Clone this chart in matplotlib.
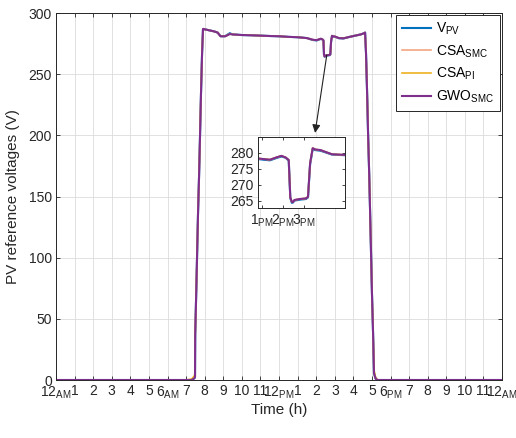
import matplotlib
matplotlib.use("Agg")
import matplotlib.pyplot as plt

plt.rcParams['font.family'] = ['Liberation Sans', 'DejaVu Sans']
plt.rcParams['mathtext.default'] = 'regular'

# ---------------- data ----------------
hours = [0, 7.0, 7.30, 7.45, 7.48, 7.49, 7.54, 7.59, 7.64, 7.70, 7.75, 7.80, 7.86, 7.91,
         8.2, 8.5, 8.7, 8.8, 8.85, 9.1, 9.25, 9.35, 9.5, 10.0, 10.5, 11.0, 11.5, 12.0,
         12.5, 13.0, 13.5, 13.8, 13.9, 14.03, 14.15, 14.25, 14.33, 14.39, 14.42, 14.45,
         14.47, 14.50, 14.60, 14.72, 14.76, 14.80, 14.85, 14.90, 15.0, 15.22, 15.47,
         15.8, 16.1, 16.4, 16.58, 16.63, 16.68, 16.74, 16.79, 16.85, 16.90, 16.95,
         17.00, 17.06, 17.11, 17.20, 17.30, 24.0]

v_pv = [0, 0, 0, 1.5, 2.7, 37, 68, 101, 135, 168, 200, 233, 267, 287,
        286, 285, 284, 282, 281, 281, 282.5, 283.5, 282.5, 282, 281.8, 281.5, 281.2, 281,
        280.5, 280.2, 279.5, 278.0, 277.8, 277.6, 278.3, 278.8, 278.4, 277.5, 265.8, 264.3,
        264.4, 265.0, 265.3, 265.5, 266.0, 276.3, 281.2, 280.8, 280.6, 279.4, 279.2,
        280.5, 281.5, 282.5, 283.5, 284, 267, 234, 202, 169, 137, 104,
        71, 38, 5.5, 1.0, 0, 0]

csa_smc = [0, 0, 0, 1.8, 3.0, 37, 68, 101, 135, 168, 200, 233, 267, 287,
           286, 285, 284, 282, 281, 281, 282, 283, 282.5, 282, 281.8, 281.5, 281.2, 281,
           280.5, 280.2, 279.5, 278.2, 278.0, 277.8, 278.5, 279.0, 278.5, 277.7, 266.0, 264.6,
           264.5, 265.2, 265.5, 265.7, 266.2, 276.7, 281.4, 281.0, 280.8, 279.5, 279.3,
           280.5, 281.5, 282.5, 283.5, 284, 267, 234, 202, 169, 137, 104,
           71, 38, 6.0, 1.2, 0, 0]

csa_pi = [0, 0, 0.8, 3.5, 5.0, 38, 69, 102, 136, 169, 201, 234, 268, 287,
          286, 285, 284, 282, 281, 281, 282, 283, 282.5, 282, 281.8, 281.5, 281.2, 281,
          280.5, 280.2, 279.5, 278.2, 278.0, 277.8, 278.5, 279.0, 278.5, 277.7, 266.0, 264.6,
          264.5, 265.2, 265.5, 265.7, 266.2, 276.7, 281.4, 281.0, 280.8, 279.5, 279.3,
          280.5, 281.5, 282.5, 283.5, 284, 268, 235, 203, 170, 138, 105,
          72, 39, 8.0, 2.0, 0, 0]

gwo_smc = [0, 0, 0, 1.5, 2.7, 37, 68, 101, 135, 168, 200, 233, 267, 287,
           286, 285, 284, 282, 281, 281, 282, 282.8, 282.5, 282, 281.8, 281.5, 281.2, 281,
           280.5, 280.2, 279.5, 278.2, 278.0, 277.8, 278.5, 279.0, 278.5, 277.7, 266.0, 264.6,
           264.5, 265.2, 265.5, 265.7, 266.2, 276.7, 281.4, 281.0, 280.8, 279.5, 279.3,
           280.5, 281.5, 282.5, 283.5, 284, 267, 234, 202, 169, 137, 104,
           71, 38, 5.5, 1.0, 0, 0]

series_labels = ['V$_{PV}$', 'CSA$_{SMC}$', 'CSA$_{PI}$', 'GWO$_{SMC}$']
series_colors = ['#0072BD', '#F4A582', '#EDB120', '#7E2F8E']
series_lw = [1.5, 1.2, 1.2, 1.5]

x_ticks = list(range(25))
x_ticklabels = ['12$_{AM}$', '1', '2', '3', '4', '5', '6$_{AM}$', '7', '8', '9', '10', '11',
                '12$_{PM}$', '1', '2', '3', '4', '5', '6$_{PM}$', '7', '8', '9', '10', '11',
                '12$_{AM}$']
y_ticks = [0, 50, 100, 150, 200, 250, 300]

inset_xlim = (13.8, 15.47)
inset_ylim = (262.6, 284.8)
inset_yticks = [265, 270, 275, 280]
inset_xticks = [13.88, 14.28, 14.68]
inset_xticklabels = ['1$_{PM}$', '2$_{PM}$', '3$_{PM}$']

# ---------------- plot ----------------
txt = '#262626'
fig = plt.figure(figsize=(5.16, 4.38), dpi=100)
ax = fig.add_axes([0.1085, 0.1324, 0.8645, 0.8379])

all_series = [v_pv, csa_smc, csa_pi, gwo_smc]
for vals, lab, col, lw in zip(all_series, series_labels, series_colors, series_lw):
    ax.plot(hours, vals, color=col, lw=lw, label=lab)

ax.set_xlim(0, 24)
ax.set_ylim(0, 300)
ax.set_xticks(x_ticks)
ax.set_xticklabels(x_ticklabels)
ax.set_yticks(y_ticks)
ax.grid(True, color='#dcdcdc', lw=0.6)
ax.set_axisbelow(True)
ax.tick_params(direction='in', top=True, right=True, labelsize=10, colors=txt,
               length=3, width=0.6, pad=3)
for s in ax.spines.values():
    s.set_color(txt)
    s.set_linewidth(0.7)
ax.set_xlabel('Time (h)', fontsize=11, color=txt, labelpad=2)
ax.set_ylabel('PV reference voltages (V)', fontsize=11, color=txt, labelpad=6)

leg = ax.legend(loc='upper right', fontsize=10, fancybox=False, framealpha=1,
                edgecolor=txt, borderaxespad=0.15, handlelength=2.1,
                labelspacing=0.45, handletextpad=0.4, borderpad=0.4)
leg.get_frame().set_linewidth(0.7)

ax.annotate('', xy=(13.94, 202), xytext=(14.57, 265.7),
            arrowprops=dict(arrowstyle='-|>', color='#222222', lw=0.8,
                            mutation_scale=12, shrinkA=0, shrinkB=0))

axin = fig.add_axes([258 / 516, 1 - 208.3 / 438, 87 / 516, 71 / 438])
for vals, col, lw in zip(all_series, series_colors, series_lw):
    axin.plot(hours, vals, color=col, lw=lw)
axin.set_xlim(*inset_xlim)
axin.set_ylim(*inset_ylim)
axin.set_yticks(inset_yticks)
axin.set_xticks(inset_xticks)
axin.set_xticklabels(inset_xticklabels)
axin.tick_params(direction='in', top=True, right=True, labelsize=10, colors=txt,
                 length=2, width=0.6, pad=3)
for s in axin.spines.values():
    s.set_color(txt)
    s.set_linewidth(0.7)

fig.savefig('out.png', dpi=100)
